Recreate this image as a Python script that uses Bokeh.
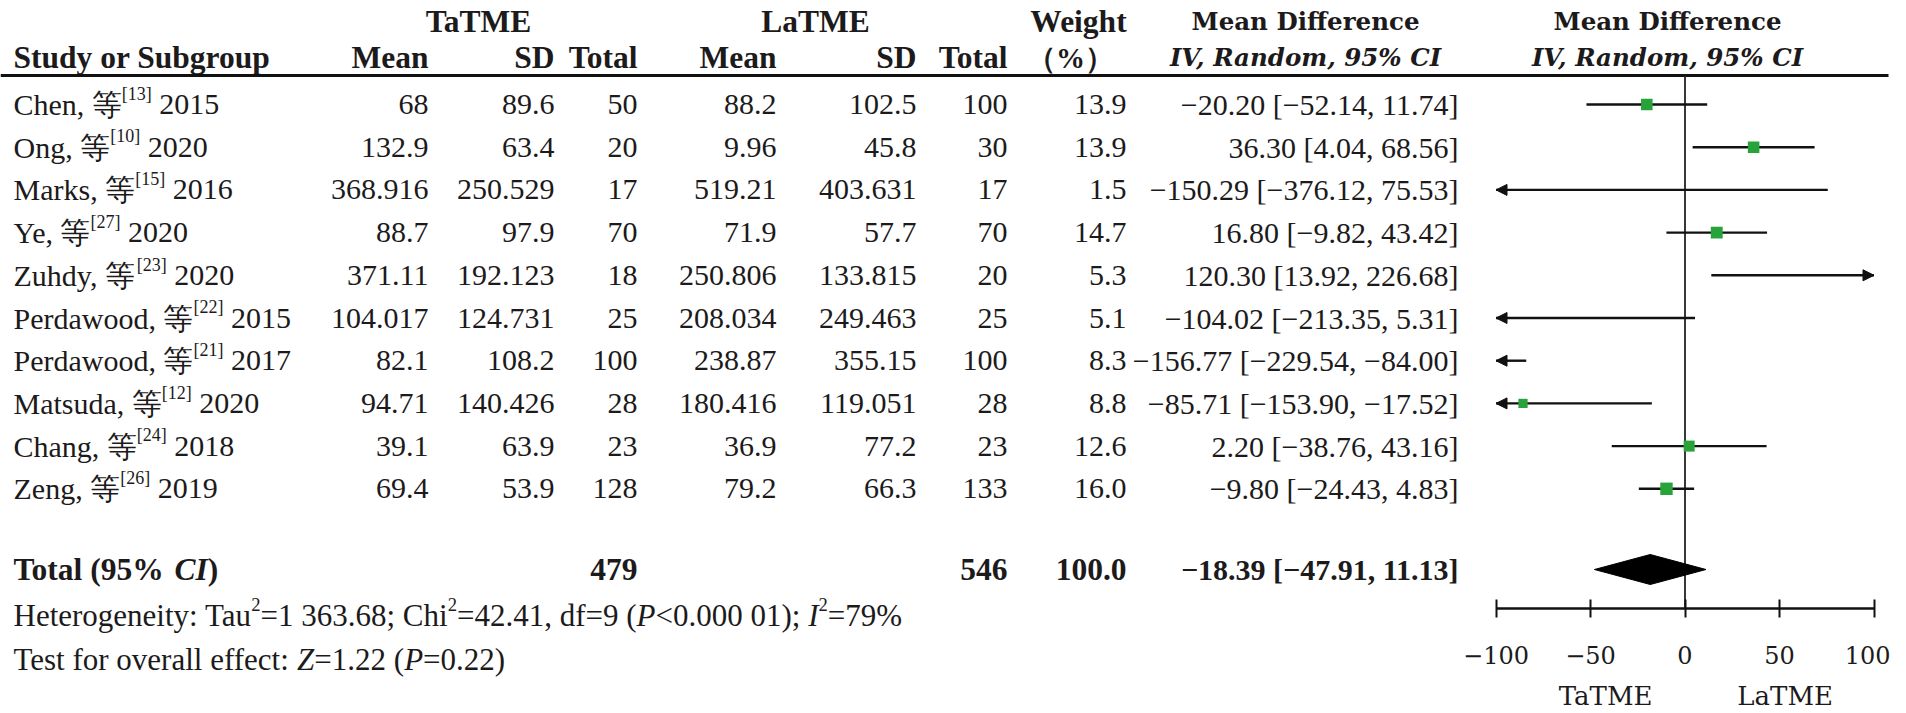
from bokeh.plotting import figure
from bokeh.models import Range1d, LinearAxis, FixedTicker, ColumnDataSource, Arrow, NormalHead
from bokeh.core.properties import value
from bokeh.embed import file_html
from bokeh.resources import INLINE

# ---------------- data ----------------
studies = ["Chen", "Ong", "Marks", "Ye", "Zuhdy", "Perdawood", "Perdawood", "Matsuda", "Chang", "Zeng"]
refs = ["[13]", "[10]", "[15]", "[27]", "[23]", "[22]", "[21]", "[12]", "[24]", "[26]"]
years = ["2015", "2020", "2016", "2020", "2020", "2015", "2017", "2020", "2018", "2019"]
ta_mean = [68, 132.9, 368.916, 88.7, 371.11, 104.017, 82.1, 94.71, 39.1, 69.4]
ta_sd = [89.6, 63.4, 250.529, 97.9, 192.123, 124.731, 108.2, 140.426, 63.9, 53.9]
ta_n = [50, 20, 17, 70, 18, 25, 100, 28, 23, 128]
la_mean = [88.2, 9.96, 519.21, 71.9, 250.806, 208.034, 238.87, 180.416, 36.9, 79.2]
la_sd = [102.5, 45.8, 403.631, 57.7, 133.815, 249.463, 355.15, 119.051, 77.2, 66.3]
la_n = [100, 30, 17, 70, 20, 25, 100, 28, 23, 133]
weight = [13.9, 13.9, 1.5, 14.7, 5.3, 5.1, 8.3, 8.8, 12.6, 16.0]
md = [-20.20, 36.30, -150.29, 16.80, 120.30, -104.02, -156.77, -85.71, 2.20, -9.80]
md_lo = [-52.14, 4.04, -376.12, -9.82, 13.92, -213.35, -229.54, -153.90, -38.76, -24.43]
md_hi = [11.74, 68.56, 75.53, 43.42, 226.68, 5.31, -84.00, -17.52, 43.16, 4.83]
total_ta_n = 479
total_la_n = 546
total_weight = 100.0
total_md = -18.39
total_lo = -47.91
total_hi = 11.13
ticks = [-100, -50, 0, 50, 100]
axis_min, axis_max = -100, 100
favour_labels = ["TaTME", "LaTME"]
favour_pos = [-42, 53]

# ---------------- layout helpers ----------------
W, H = 1890, 713

SERIF = "Liberation Serif"
WIDE = "DejaVu Serif"
INK = "#1c1a1b"
FS = 30        # table body
FSN = 31       # footnote lines
FSH = 31.5     # bold headers

# Times-compatible advance widths (per 1000 em)
_R = {' ': 250, ',': 250, '.': 250, ':': 278, ';': 278, '<': 564, '=': 564, '%': 833, '(': 333, ')': 333,
      '[': 333, ']': 333, '\u2212': 564, '-': 333, '\u7b49': 1000}
for ch in "0123456789":
    _R[ch] = 500
_R.update(dict(zip("ABCDEFGHIJKLMNOPQRSTUVWXYZ",
                   [722, 667, 667, 722, 611, 556, 722, 722, 333, 389, 722, 611, 889, 722, 722, 556, 722, 667, 556, 611, 722, 722, 944, 722, 722, 611])))
_R.update(dict(zip("abcdefghijklmnopqrstuvwxyz",
                   [444, 500, 444, 500, 444, 333, 500, 500, 278, 278, 500, 278, 778, 500, 500, 500, 500, 333, 389, 278, 500, 500, 722, 500, 500, 444])))
_KERN = {"Ye": -100, "Ta": -80, "Te": -70}
_B = {'T': 667, 'o': 500, 't': 333, 'a': 500, 'l': 278, ' ': 250, '(': 333, ')': 333, '9': 500, '5': 500, '%': 1000}
_I = {'P': 611, 'I': 333, 'Z': 556, 'C': 667}
_BI = {'C': 667, 'I': 389}

def tw(s, size, table=None):
    t = table or _R
    w = sum(t.get(c, _R.get(c, 500)) for c in s)
    if table is None:
        w += sum(_KERN.get(s[k:k + 2], 0) for k in range(len(s) - 1))
    return w / 1000.0 * size

def txt(x, y, s, size, align="left", font=SERIF, style="normal", rng="default", color=INK, baseline="middle"):
    p.text(x=[x], y=[y], text=[s], text_font=value(font), text_font_size=f"{size}px",
           text_font_style=style, text_align=align, text_baseline=baseline,
           text_color=color, x_range_name=rng)

def rich(x, y, pieces, size):
    """pieces: list of (text, kind); kind in n, i, b, bi, sup. Leading spaces are advanced manually."""
    cx = x
    for s, kind in pieces:
        table = {"n": None, "sup": None, "i": _I, "b": _B, "bi": _BI}[kind]
        ss = size * 0.6 if kind == "sup" else size
        lead = len(s) - len(s.lstrip(" "))
        cx += tw(" " * lead, ss, table)
        s = s.lstrip(" ")
        style = {"n": "normal", "sup": "normal", "i": "italic", "b": "bold", "bi": "bold italic"}[kind]
        if kind == "sup":
            txt(cx, y - size * 0.36, s, round(ss, 1))
            cx += tw(s, ss)
        else:
            txt(cx, y, s, size, style=style)
            cx += tw(s, size, table)

def fmt(v):
    return str(v).replace("-", "\u2212")

def ci_text(m, l, h):
    return f"{m:.2f} [{l:.2f}, {h:.2f}]".replace("-", "\u2212")

# ---------------- figure ----------------
p = figure(width=W, height=H, x_range=Range1d(0, W), y_range=Range1d(H, 0),
           output_backend="svg", toolbar_location=None,
           x_axis_location=None, y_axis_location=None, min_border=0)
p.grid.visible = False
p.outline_line_color = None
p.background_fill_color = "white"
p.border_fill_color = "white"

X0 = 1684.5
SC = 1.89
p.extra_x_ranges["md"] = Range1d((0 - X0) / SC, (W - X0) / SC)

# vertical positions (pixels)
Y_H1, Y_H2, Y_LINE = 21, 57, 75
Y_ROW0, DY = 104, 42.7
Y_TOTAL = 569
Y_AXIS = 608
Y_HET, Y_TEST = 615, 659
Y_FAV = 695

rows_y = [Y_ROW0 + DY * i for i in range(len(studies))]

# headers
txt(478, Y_H1, "TaTME", FSH, align="center", style="bold")
txt(815, Y_H1, "LaTME", FSH, align="center", style="bold")
txt(1078, Y_H1, "Weight", FSH, align="center", style="bold")
txt(1305, Y_H1, "Mean Difference", 24.5, align="center", font=WIDE, style="bold")
txt(1667, Y_H1, "Mean Difference", 24.5, align="center", font=WIDE, style="bold")

txt(13, Y_H2, "Study or Subgroup", FSH, style="bold")
for s, xr in [("Mean", 428), ("SD", 554), ("Total", 637), ("Mean", 776), ("SD", 916), ("Total", 1007)]:
    txt(xr, Y_H2, s, FSH, align="right", style="bold")
txt(1070, Y_H2, "\uff08%\uff09", 29, align="center", style="bold")
txt(1305, Y_H2, "IV, Random, 95% CI", 24.5, align="center", font=WIDE, style="bold italic")
txt(1667, Y_H2, "IV, Random, 95% CI", 24.5, align="center", font=WIDE, style="bold italic")

p.segment(x0=[0], y0=[Y_LINE], x1=[1888], y1=[Y_LINE], line_color="#111111", line_width=2.8)

# study names with superscript refs
for i, y in enumerate(rows_y):
    rich(13, y, [(f"{studies[i]}, \u7b49", "n"), (refs[i], "sup"), (" " + years[i], "n")], FS)

# numeric columns
def col(vals, xr, y_list, size=FS, style="normal"):
    src = ColumnDataSource(dict(x=[xr] * len(vals), y=y_list, t=vals))
    p.text(x="x", y="y", text="t", source=src, text_font=value(SERIF), text_font_size=f"{size}px",
           text_font_style=style, text_align="right", text_baseline="middle", text_color=INK)

col([fmt(v) for v in ta_mean], 428, rows_y)
col([fmt(v) for v in ta_sd], 554, rows_y)
col([str(v) for v in ta_n], 637, rows_y)
col([fmt(v) for v in la_mean], 776, rows_y)
col([fmt(v) for v in la_sd], 916, rows_y)
col([str(v) for v in la_n], 1007, rows_y)
col([f"{v:.1f}" for v in weight], 1126, rows_y)
col([ci_text(m, l, h) for m, l, h in zip(md, md_lo, md_hi)], 1458, rows_y)

# total row
yt = Y_TOTAL
rich(13, yt, [("Total (95% ", "b"), ("CI", "bi"), (")", "b")], FSH)
col([str(total_ta_n)], 637, [yt], size=FSH, style="bold")
col([str(total_la_n)], 1007, [yt], size=FSH, style="bold")
col([f"{total_weight:.1f}"], 1126, [yt], size=FSH, style="bold")
col([ci_text(total_md, total_lo, total_hi)], 1458, [yt], style="bold")

# heterogeneity / overall effect
rich(13, Y_HET, [("Heterogeneity: Tau", "n"), ("2", "sup"), ("=1 363.68; Chi", "n"), ("2", "sup"),
                 ("=42.41, df=9 (", "n"), ("P", "i"), ("<0.000 01); ", "n"), ("I", "i"), ("2", "sup"),
                 ("=79%", "n")], FSN)
rich(13, Y_TEST, [("Test for overall effect: ", "n"), ("Z", "i"), ("=1.22 (", "n"), ("P", "i"),
                  ("=0.22)", "n")], FSN)

# ---------------- forest plot ----------------
p.segment(x0=[0], y0=[Y_LINE], x1=[0], y1=[Y_AXIS], x_range_name="md", line_color="#222222", line_width=1.8)

x0c = [max(l, axis_min) for l in md_lo]
x1c = [min(h, axis_max) for h in md_hi]
p.segment(x0=x0c, y0=rows_y, x1=x1c, y1=rows_y, x_range_name="md", line_color="#111111", line_width=2.4)

# arrows for CIs exceeding the axis
arr = dict(xs=[], xe=[], y=[])
for l, h, y in zip(md_lo, md_hi, rows_y):
    if l < axis_min:
        arr["xs"].append(axis_min + 3); arr["xe"].append(axis_min); arr["y"].append(y)
    if h > axis_max:
        arr["xs"].append(axis_max - 3); arr["xe"].append(axis_max); arr["y"].append(y)
asrc = ColumnDataSource(dict(xs=arr["xs"], xe=arr["xe"], y=arr["y"]))
p.add_layout(Arrow(x_start="xs", y_start="y", x_end="xe", y_end="y", source=asrc, x_range_name="md",
                   line_color="#111111", line_width=2.4,
                   end=NormalHead(size=11, fill_color="#111111", line_color="#111111", line_width=1)))

# weight squares (only those inside the axis)
sq = dict(x=[], y=[], s=[])
for m, w, y in zip(md, weight, rows_y):
    if axis_min <= m <= axis_max:
        sq["x"].append(m); sq["y"].append(y); sq["s"].append(3.1 * w ** 0.5)
p.scatter(x="x", y="y", size="s", source=ColumnDataSource(sq), marker="square", x_range_name="md",
          fill_color="#27a33a", line_color=None)

# pooled diamond
hd = 15
p.patch(x=[total_lo, total_md, total_hi, total_md], y=[yt, yt - hd, yt, yt + hd], x_range_name="md",
        fill_color="black", line_color="black", line_width=1)

# axis
ax = LinearAxis(x_range_name="md", fixed_location=Y_AXIS, bounds=(axis_min, axis_max),
                ticker=FixedTicker(ticks=ticks))
ax.axis_line_width = 2.6
ax.axis_line_color = "#111111"
ax.major_tick_in = 9
ax.major_tick_out = 9
ax.major_tick_line_width = 2
ax.major_tick_line_color = "#111111"
ax.minor_tick_line_color = None
ax.major_label_standoff = 28
ax.major_label_text_font = WIDE
ax.major_label_text_font_size = "24px"
ax.major_label_text_color = INK
ax.major_label_overrides = {t: fmt(t) for t in ticks}
p.add_layout(ax, "below")

for lab, xp in zip(favour_labels, favour_pos):
    txt(xp, Y_FAV, lab, 26, align="center", font=WIDE, rng="md")

open("out.html", "w").write(file_html(p, INLINE))
